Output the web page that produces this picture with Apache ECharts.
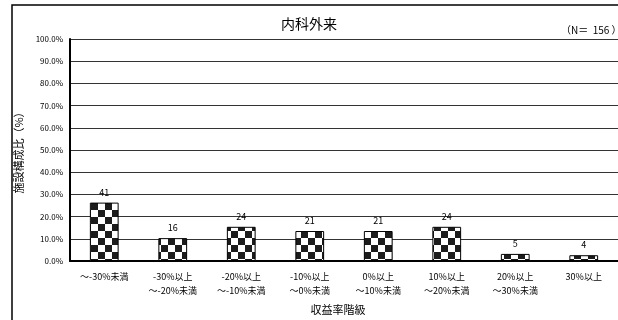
<!DOCTYPE html>
<html>
<head>
<meta charset="utf-8">
<script src="https://cdn.jsdelivr.net/npm/echarts@6/dist/echarts.min.js"></script>
<style>
html, body { margin: 0; padding: 0; background: #fff; }
#chart { width: 618px; height: 320px; }
</style>
</head>
<body>
<div id="chart"></div>
<script>
// 収益率階級
var categories = ['～-30%未満', '-30%以上\n～-20%未満', '-20%以上\n～-10%未満', '-10%以上\n～0%未満',
                  '0%以上\n～10%未満', '10%以上\n～20%未満', '20%以上\n～30%未満', '30%以上'];
// 施設数 (bar labels)
var counts = [41, 16, 24, 21, 21, 24, 5, 4];
// 施設構成比 (%)
var shares = [26.3, 10.3, 15.4, 13.5, 13.5, 15.4, 3.2, 2.6];
var yTicks = [0, 10, 20, 30, 40, 50, 60, 70, 80, 90, 100];

var font = '"Noto Sans CJK JP", "Noto Sans", sans-serif';

// checkerboard fill
var cv = document.createElement('canvas');
cv.width = 14; cv.height = 14;
var cx = cv.getContext('2d');
cx.fillStyle = '#fff';
cx.fillRect(0, 0, 14, 14);
cx.fillStyle = '#1c1c1c';
cx.fillRect(0, 0, 7, 7);
cx.fillRect(7, 7, 7, 7);

var chart = echarts.init(document.getElementById('chart'));
chart.setOption({
    animation: false,
    backgroundColor: '#fff',
    textStyle: { fontFamily: font },
    title: {
        text: '内科外来',
        left: 'center',
        top: 12,
        textStyle: { fontSize: 14, fontWeight: 'normal', color: '#000', fontFamily: font }
    },
    graphic: [
        {
            // outer frame, runs off the right and bottom edges
            type: 'polyline',
            shape: { points: [[12, 400], [12, 5], [700, 5]] },
            style: { fill: null, stroke: '#000', lineWidth: 1.5 },
            silent: true
        },
        {
            type: 'text',
            left: 561,
            top: 25,
            style: { text: '（N＝  156 ）', fontSize: 10, fill: '#000', fontFamily: font }
        }
    ],
    grid: {
        left: 70,
        top: 39,
        width: 552,
        height: 226,
        containLabel: false
    },
    xAxis: {
        type: 'category',
        data: categories,
        name: '収益率階級',
        nameLocation: 'middle',
        nameGap: 43,
        nameTextStyle: { fontSize: 11, color: '#000', padding: [0, 0, 0, -12] },
        axisLine: { lineStyle: { color: '#000', width: 2 } },
        axisTick: { show: false },
        axisLabel: { color: '#000', fontSize: 9, margin: 9, lineHeight: 14, interval: 0 }
    },
    yAxis: {
        type: 'value',
        min: yTicks[0],
        max: yTicks[yTicks.length - 1],
        interval: 10,
        name: '施設構成比（%）',
        nameLocation: 'middle',
        nameGap: 33,
        nameRotate: 90,
        nameTextStyle: { fontSize: 11, color: '#000' },
        axisLine: { show: true, lineStyle: { color: '#000', width: 2 } },
        axisTick: { show: false },
        axisLabel: {
            color: '#000', fontSize: 8, margin: 7,
            formatter: function (v) { return v.toFixed(1) + '%'; }
        },
        splitLine: { lineStyle: { color: '#333', width: 1 } }
    },
    series: [{
        type: 'bar',
        data: shares,
        barWidth: '42%',
        itemStyle: {
            color: { image: cv, repeat: 'repeat' },
            borderColor: '#000',
            borderWidth: 1
        },
        label: {
            show: true,
            position: 'top',
            distance: 6,
            fontSize: 9,
            color: '#000',
            formatter: function (p) { return counts[p.dataIndex]; }
        }
    }]
});
</script>
</body>
</html>
